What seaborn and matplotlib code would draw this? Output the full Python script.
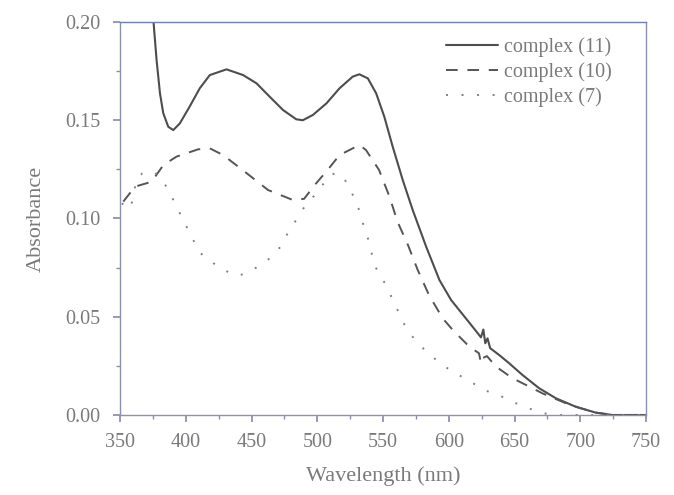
import numpy as np
import pandas as pd
import seaborn as sns
import matplotlib.pyplot as plt
from matplotlib.ticker import MultipleLocator

# complex (11) - solid
wl_11 = [375.5, 377.8, 380.4, 382.9, 386.7, 390.5, 395.5, 403, 410.7, 418.3, 431, 443.6, 453.8, 463.8, 474, 484, 489,
         496.7, 507, 517, 527, 532, 538.5, 544.8, 551, 557.4, 565, 572.6, 582.8, 592.9, 601.8, 613, 621,
         624.5, 626.3, 627.8, 629.5, 631.5, 638.4, 646, 656, 668.8, 681.5, 696.6, 711.8, 724.4, 750]
ab_11 = [0.200, 0.1807, 0.1637, 0.1536, 0.1467, 0.145, 0.1484, 0.157, 0.1663, 0.173, 0.1759, 0.173, 0.1688, 0.162, 0.1552, 0.1505, 0.150,
         0.1527, 0.1586, 0.1663, 0.1722, 0.1734, 0.1713, 0.1637, 0.1518, 0.1365, 0.1196, 0.1043, 0.0857, 0.0687, 0.0585, 0.0492, 0.0425,
         0.0395, 0.0435, 0.0365, 0.039, 0.034, 0.0305, 0.0263, 0.0204, 0.0136, 0.0085, 0.0042, 0.0012, 0.0, 0.0]

# complex (10) - dashed
wl_10 = [352.5, 361.4, 374, 383, 393, 409.4, 418.3, 428.4, 444.9, 462.6, 481.5, 490, 498, 507, 517, 532, 537, 547,
         555, 561, 569, 576.4, 585, 595.4, 603, 615.6, 623, 624.5, 626, 629, 636, 648.5, 658.7, 671.3, 689, 700, 712, 725, 750]
ab_10 = [0.1086, 0.1162, 0.1187, 0.1272, 0.1315, 0.1352, 0.1357, 0.1323, 0.1238, 0.1145, 0.1094, 0.110, 0.117, 0.124, 0.1323, 0.1374, 0.1349, 0.1247,
         0.111, 0.0984, 0.0865, 0.0738, 0.061, 0.0492, 0.0433, 0.0348, 0.0314, 0.0263, 0.029, 0.030, 0.0246, 0.0187, 0.0153, 0.011, 0.006, 0.0035, 0.0012, 0.0, 0.0]

# complex (7) - dotted
wl_7 = [351.3, 358, 362.7, 367, 375, 381, 388, 393, 399, 410.5, 427, 440, 450, 463, 472.7, 479, 486, 491.7, 500, 509, 515,
        520, 526, 531, 534.7, 538.5, 541, 544.8, 551, 556, 567.6, 576.4, 587.8, 599, 610.6, 622, 627.8, 636.4, 648, 659, 671, 685, 750]
ab_7 = [0.1077, 0.105, 0.120, 0.123, 0.124, 0.121, 0.113, 0.106, 0.098, 0.0827, 0.0742, 0.0708, 0.0734, 0.0793, 0.086, 0.0946, 0.101, 0.1077, 0.113, 0.122, 0.1232,
        0.121, 0.1136, 0.106, 0.0976, 0.090, 0.0831, 0.0747, 0.0675, 0.0607, 0.0441, 0.0365, 0.0294, 0.0238, 0.0192, 0.0148, 0.0124, 0.0107, 0.0068, 0.0039, 0.0009, 0.0, 0.0]

labels = ["complex (11)", "complex (10)", "complex (7)"]

sns.set_theme(style="white")
plt.rcParams['font.family'] = ['Liberation Serif', 'DejaVu Serif']

fig = plt.figure(figsize=(6.74, 4.95), dpi=100)
ax = fig.add_axes([120 / 674, 1 - 415 / 495, 526 / 674, 393 / 495])

txt = "#7a7a7a"

df11 = pd.DataFrame({"wl": wl_11, "ab": ab_11})
df10 = pd.DataFrame({"wl": wl_10, "ab": ab_10})
df7 = pd.DataFrame({"wl": wl_7, "ab": ab_7})

sns.lineplot(data=df11, x="wl", y="ab", ax=ax, color="#4d4d4d", lw=1.5, label=labels[0], sort=False)
sns.lineplot(data=df10, x="wl", y="ab", ax=ax, color="#555555", lw=1.4, label=labels[1], sort=False,
             linestyle=(0, (6, 5)))
sns.lineplot(data=df7, x="wl", y="ab", ax=ax, color="#808080", lw=1.4, label=labels[2], sort=False,
             linestyle=(0, (1, 7)))

ax.set_xlim(350, 750)
ax.set_ylim(0, 0.20)
ax.xaxis.set_major_locator(MultipleLocator(50))
ax.xaxis.set_minor_locator(MultipleLocator(25))
ax.yaxis.set_major_locator(MultipleLocator(0.05))
ax.yaxis.set_minor_locator(MultipleLocator(0.025))
ax.yaxis.set_major_formatter(plt.FuncFormatter(lambda v, p: f"{v:.2f}"))
ax.tick_params(which="both", direction="out", colors="#8a8fa8", labelcolor=txt)
ax.tick_params(axis="x", which="major", length=5, labelsize=14.5, pad=8)
ax.tick_params(axis="y", which="major", length=5, labelsize=14.5, pad=9)
ax.tick_params(which="minor", length=3)
ax.tick_params(bottom=True, left=True, which="both")
for s in ax.spines.values():
    s.set_color("#8a90b0")
    s.set_linewidth(1.0)
ax.spines["top"].set_color("#6f7fb8")

ax.set_xlabel("Wavelength (nm)", color=txt, fontsize=16, labelpad=10)
ax.set_ylabel("Absorbance", color=txt, fontsize=16, labelpad=14)

leg = ax.legend(loc="upper right", bbox_to_anchor=(0.935, 0.96), frameon=False, fontsize=14.5,
                handlelength=2.6, handletextpad=0.3, labelspacing=0.25, borderaxespad=0.0, borderpad=0.0)
for t in leg.get_texts():
    t.set_color(txt)

fig.savefig("out.png", dpi=100)
